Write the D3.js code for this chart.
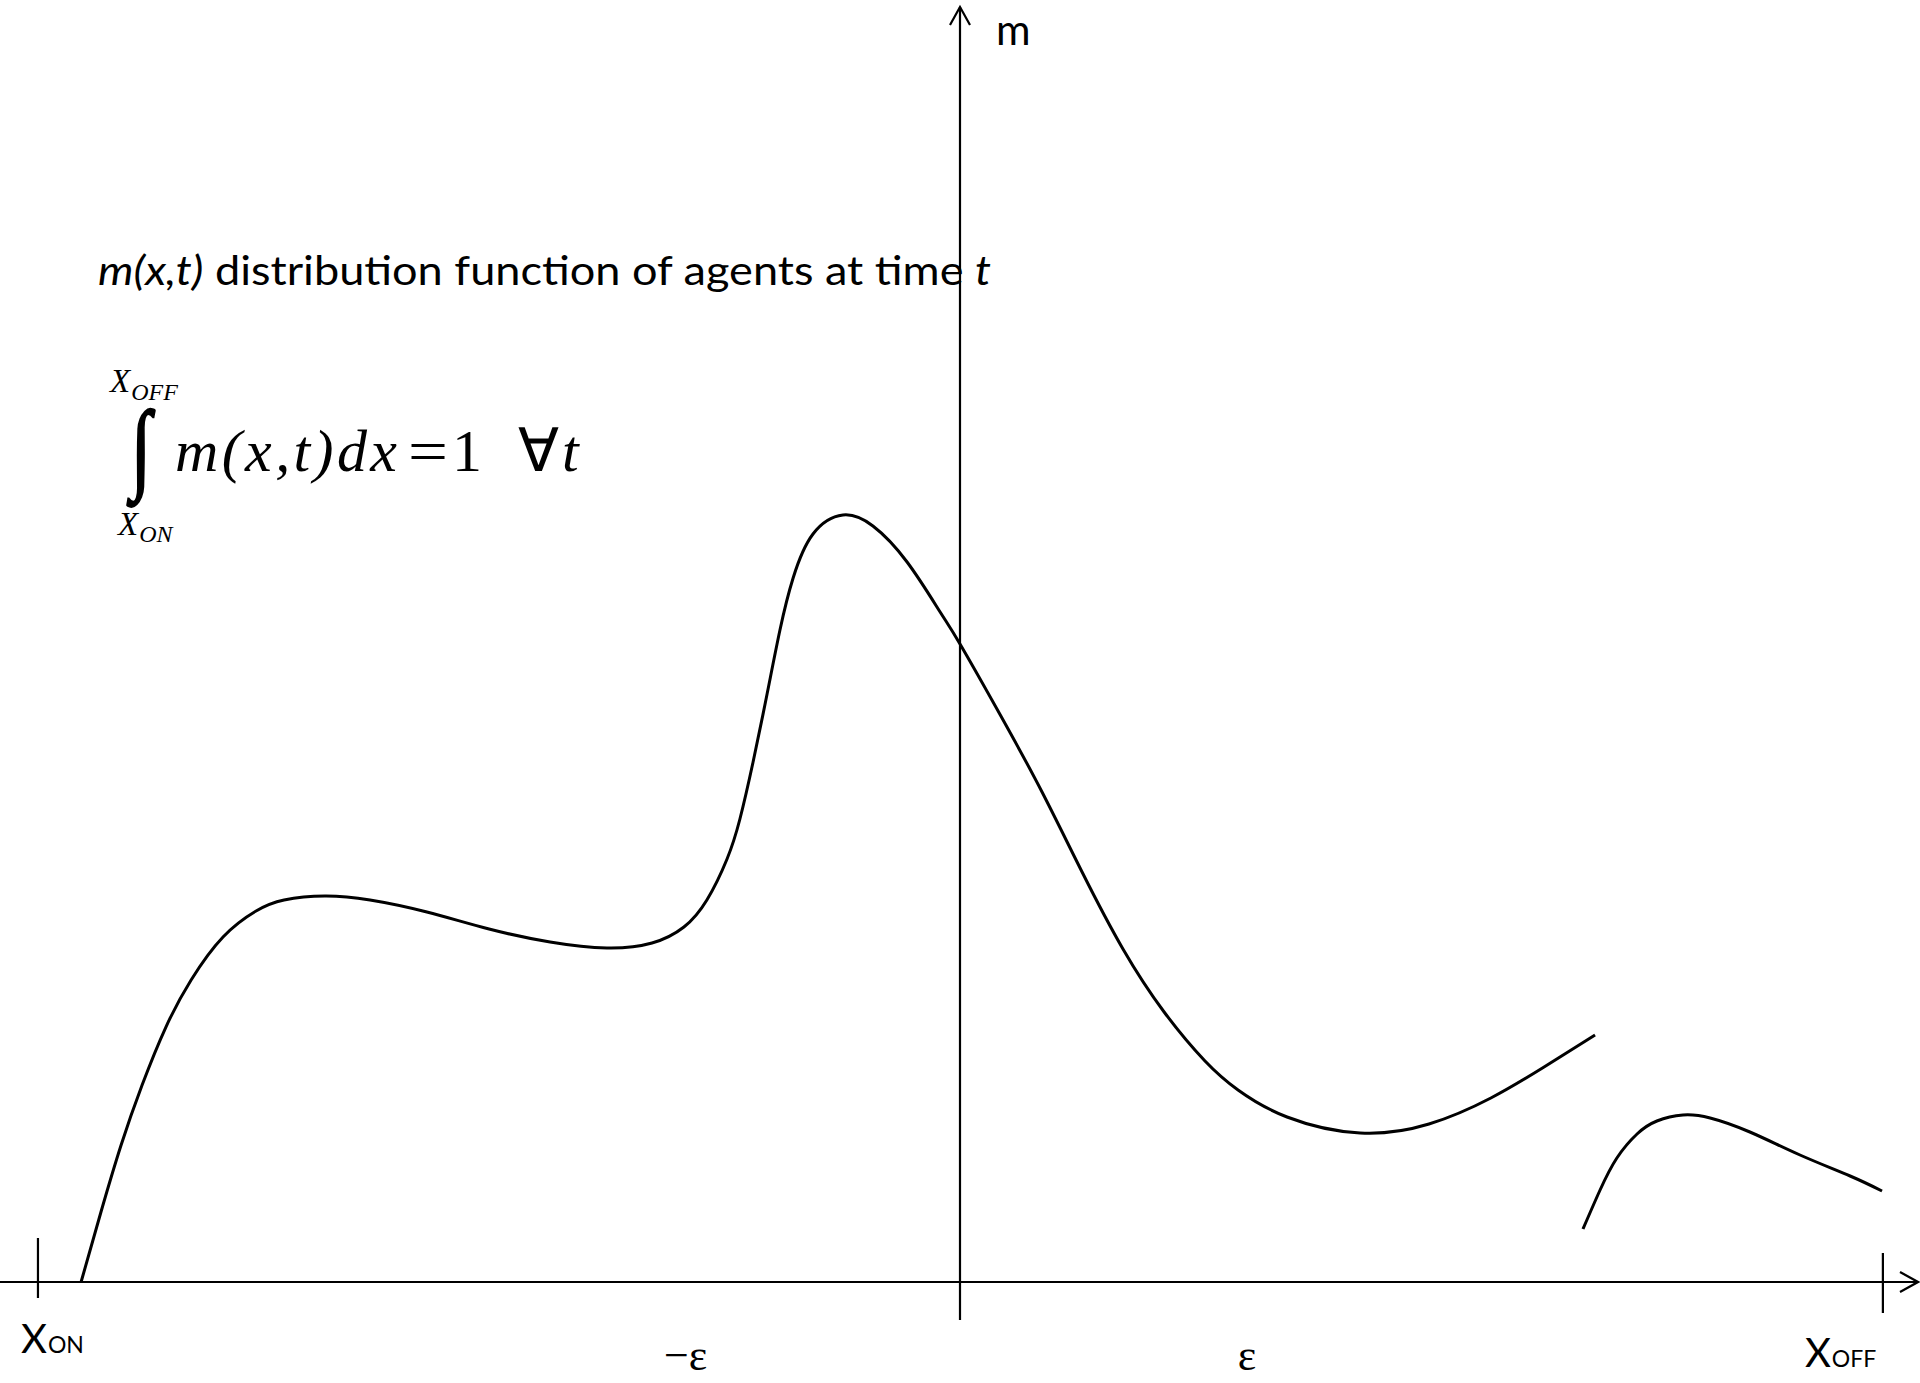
<!DOCTYPE html>
<html>
<head>
<meta charset="utf-8">
<script src="https://cdn.jsdelivr.net/npm/d3@7"></script>
<style>
  html, body { margin: 0; padding: 0; background: #fff; }
  svg { display: block; }
</style>
</head>
<body>
<svg id="chart" width="1920" height="1383"></svg>
<script>
// Distribution m(x,t) sketched over the state space [X_ON, X_OFF]; x in units of ε.

// Left branch of m(x,t): from X_ON side across the origin up to the gap
const branchAX = [-3.139, -3.068, -2.996, -2.921, -2.836, -2.746, -2.632, -2.514, -2.414, -2.268,
                  -2.107, -1.904, -1.682, -1.464, -1.261, -1.100, -0.986, -0.904, -0.832, -0.786,
                  -0.739, -0.689, -0.643, -0.596, -0.525, -0.418, -0.311, -0.189, -0.071, 0.000,
                   0.146, 0.293, 0.436, 0.582, 0.729, 0.875, 0.993, 1.168, 1.429, 1.675,
                   1.896, 2.086, 2.268];
const branchAM = [0.000, 0.070, 0.137, 0.197, 0.255, 0.302, 0.345, 0.371, 0.382, 0.386,
                  0.382, 0.370, 0.353, 0.340, 0.334, 0.339, 0.355, 0.382, 0.423, 0.463,
                  0.520, 0.588, 0.652, 0.704, 0.748, 0.767, 0.756, 0.720, 0.670, 0.638,
                  0.566, 0.490, 0.410, 0.333, 0.270, 0.221, 0.192, 0.165, 0.149, 0.158,
                  0.184, 0.215, 0.247];

// Right branch of m(x,t): after the gap, towards X_OFF
const branchBX = [2.225, 2.286, 2.346, 2.418, 2.489, 2.582, 2.679, 2.821, 3.000, 3.179, 3.293];
const branchBM = [0.053, 0.092, 0.124, 0.148, 0.161, 0.167, 0.164, 0.150, 0.127, 0.106, 0.091];

// Domain bounds and the ±ε marks on the x axis
const boundNames = ["ON", "OFF"];
const boundX = [-3.293, 3.296];
const epsLabels = ["\u2212\u03b5", "\u03b5"];
const epsX = [-0.98, 1.025];

const svg = d3.select("#chart");

const x = d3.scaleLinear().domain([-1, 1]).range([680, 1240]);
const y = d3.scaleLinear().domain([0, 1]).range([1282, 282]);

const sans = "Lato, 'Open Sans', sans-serif";
const serif = "'Liberation Serif', 'Times New Roman', serif";

// ---- axes ----
const axisG = svg.append("g").attr("stroke", "#000").attr("fill", "none");

// horizontal (x) axis with open arrow head
const xEnd = 1918;
axisG.append("line").attr("x1", 0).attr("x2", xEnd)
  .attr("y1", y(0)).attr("y2", y(0)).attr("stroke-width", 2.2);
axisG.append("path")
  .attr("d", `M${xEnd - 18},${y(0) - 10} L${xEnd},${y(0)} L${xEnd - 18},${y(0) + 10}`)
  .attr("stroke-width", 2.2);

// vertical (m) axis with open arrow head
const mTop = 7;
axisG.append("line").attr("x1", x(0)).attr("x2", x(0))
  .attr("y1", mTop).attr("y2", 1320).attr("stroke-width", 2.2);
axisG.append("path")
  .attr("d", `M${x(0) - 10},${mTop + 18} L${x(0)},${mTop} L${x(0) + 10},${mTop + 18}`)
  .attr("stroke-width", 2.2);

// end ticks at X_ON and X_OFF
const tickSpans = [[-44, 16], [-29, 31]];
boundX.forEach((bx, i) => {
  axisG.append("line")
    .attr("x1", x(bx)).attr("x2", x(bx))
    .attr("y1", y(0) + tickSpans[i][0]).attr("y2", y(0) + tickSpans[i][1])
    .attr("stroke-width", 2.2);
});

// ---- curve ----
const line = d3.line()
  .x(d => x(d[0]))
  .y(d => y(d[1]))
  .curve(d3.curveNatural);

[[branchAX, branchAM], [branchBX, branchBM]].forEach(([xs, ms]) => {
  svg.append("path")
    .datum(xs.map((v, i) => [v, ms[i]]))
    .attr("d", line)
    .attr("fill", "none")
    .attr("stroke", "#000")
    .attr("stroke-width", 3)
    .attr("stroke-linejoin", "round");
});

// ---- labels ----
// X_ON / X_OFF under the ends of the axis
const boundLabelPos = [{ dx: -17, base: 1353 }, { dx: -78, base: 1367 }];
boundNames.forEach((nm, i) => {
  const t = svg.append("text")
    .attr("x", x(boundX[i]) + boundLabelPos[i].dx)
    .attr("y", boundLabelPos[i].base)
    .attr("font-family", sans)
    .attr("fill", "#000");
  t.append("tspan").attr("font-size", 40).text("X");
  t.append("tspan").attr("font-size", 23).attr("dx", 1).text(nm);
});

// ±ε
epsLabels.forEach((lb, i) => {
  svg.append("text")
    .attr("x", x(epsX[i]))
    .attr("y", 1370)
    .attr("text-anchor", "middle")
    .attr("font-family", serif)
    .attr("font-size", 44)
    .text(lb);
});

// m axis name
svg.append("text")
  .attr("x", 996).attr("y", 45)
  .attr("font-family", sans)
  .attr("font-size", 42)
  .text("m");

// description line
const desc = svg.append("text")
  .attr("x", 98).attr("y", 285)
  .attr("font-family", sans)
  .attr("font-size", 40)
  .attr("textLength", 893)
  .attr("lengthAdjust", "spacingAndGlyphs");
desc.append("tspan").attr("font-style", "italic").text("m(x,t)");
desc.append("tspan").text(" distribution function of agents at time ");
desc.append("tspan").attr("font-style", "italic").text("t");

// normalisation condition
const eq = svg.append("g").attr("font-family", serif).attr("fill", "#000");
// upper limit
const up = eq.append("text").attr("x", 110).attr("y", 392).attr("font-style", "italic");
up.append("tspan").attr("font-size", 33).text("X");
up.append("tspan").attr("font-size", 24).attr("dy", 8).attr("dx", 1).text("OFF");
// lower limit
const lo = eq.append("text").attr("x", 118).attr("y", 535).attr("font-style", "italic");
lo.append("tspan").attr("font-size", 33).text("X");
lo.append("tspan").attr("font-size", 24).attr("dy", 7).attr("dx", 1).text("ON");
// integral sign
eq.append("text")
  .attr("transform", "translate(131,480) scale(1,1.35)")
  .attr("font-size", 74)
  .attr("stroke", "#000")
  .attr("stroke-width", 1.6)
  .text("\u222b");
// integrand and right-hand side
const mainSize = 60, mainBase = 471;
eq.append("text").attr("x", 175).attr("y", mainBase).attr("font-size", mainSize)
  .attr("font-style", "italic")
  .attr("textLength", 222)
  .text("m(x,t)dx");
eq.append("text").attr("x", 408).attr("y", mainBase).attr("font-size", mainSize)
  .attr("textLength", 40).attr("lengthAdjust", "spacingAndGlyphs").text("=");
eq.append("text").attr("x", 452).attr("y", mainBase).attr("font-size", mainSize).text("1");
eq.append("text").attr("x", 518).attr("y", mainBase).attr("font-size", mainSize).text("\u2200");
eq.append("text").attr("x", 562).attr("y", mainBase).attr("font-size", mainSize)
  .attr("font-style", "italic").text("t");
</script>
</body>
</html>
